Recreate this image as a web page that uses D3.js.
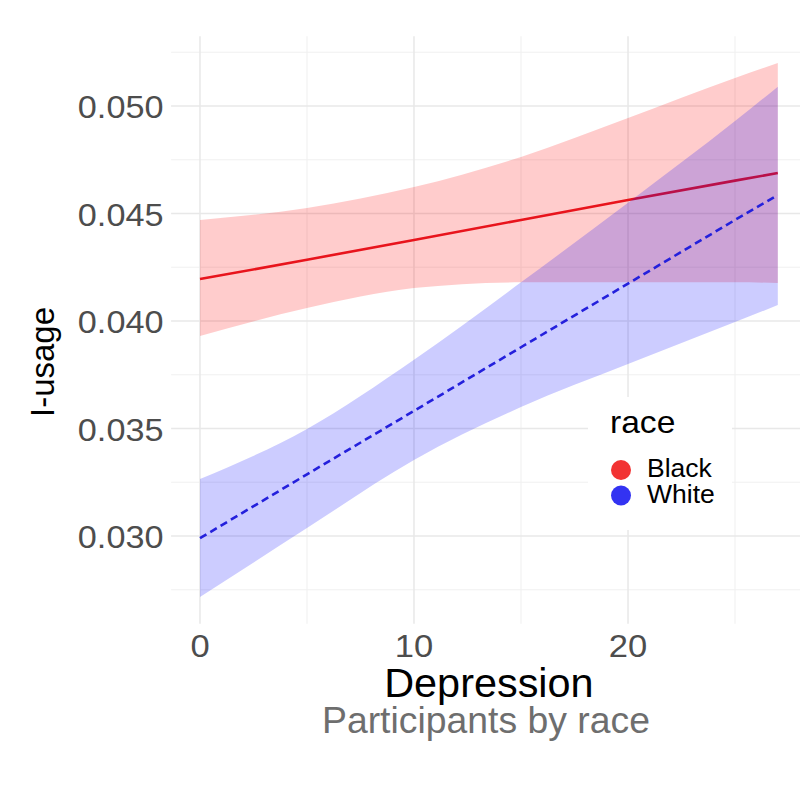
<!DOCTYPE html>
<html><head><meta charset="utf-8">
<script src="https://cdn.jsdelivr.net/npm/d3@7"></script>
<style>html,body{margin:0;padding:0;background:#fff;} svg{display:block;}</style>
</head><body>
<svg id="chart" width="800" height="800"></svg>
<script>
// ---- data ----
const depression = [0, 5, 10, 15, 20, 25, 27];
const blackFit   = [0.04195, 0.04285, 0.04377, 0.04470, 0.04563, 0.04653, 0.04688];
const blackLower = [0.03930, 0.04060, 0.04153, 0.04180, 0.04180, 0.04180, 0.04177];
const blackUpper = [0.04470, 0.04526, 0.04623, 0.04763, 0.04944, 0.05130, 0.05200];
const whiteFit   = [0.02990, 0.03287, 0.03582, 0.03878, 0.04174, 0.04470, 0.04586];
const whiteLower = [0.02716, 0.03037, 0.03354, 0.03600, 0.03800, 0.03995, 0.04074];
const whiteUpper = [0.03265, 0.03498, 0.03820, 0.04180, 0.04550, 0.04930, 0.05090];
const races = ["Black", "White"];
const xMajorTicks = [0, 10, 20];
const xMinorTicks = [5, 15, 25];
const yMajorTicks = [0.030, 0.035, 0.040, 0.045, 0.050];
const yMinorTicks = [0.0275, 0.0325, 0.0375, 0.0425, 0.0475, 0.0525];
const xTitle = "Depression";
const yTitle = "I-usage";
const caption = "Participants by race";
const legendTitle = "race";

// ---- scales (ggplot-style 5% expansion) ----
const xExt = d3.extent(depression);
const xPad = (xExt[1] - xExt[0]) * 0.05;
const allY = blackLower.concat(blackUpper, whiteLower, whiteUpper);
const yExt = d3.extent(allY);
const yPad = (yExt[1] - yExt[0]) * 0.05;

const x = d3.scaleLinear().domain([xExt[0] - xPad, xExt[1] + xPad]).range([171.1, 806.7]);
const y = d3.scaleLinear().domain([yExt[0] - yPad, yExt[1] + yPad]).range([623.8, 36.3]);

const svg = d3.select("#chart");
const FONT = "'Liberation Sans', Arial, Helvetica, sans-serif";
const [px0, px1] = x.range();
const [py0, py1] = y.range();

// ---- grid ----
const grid = svg.append("g");
grid.selectAll(".hmin").data(yMinorTicks).join("line")
  .attr("x1", px0).attr("x2", px1).attr("y1", d => y(d)).attr("y2", d => y(d))
  .attr("stroke", "#f0f0f0").attr("stroke-width", 1.1);
grid.selectAll(".vmin").data(xMinorTicks).join("line")
  .attr("y1", py0).attr("y2", py1).attr("x1", d => x(d)).attr("x2", d => x(d))
  .attr("stroke", "#f0f0f0").attr("stroke-width", 1.1);
grid.selectAll(".hmaj").data(yMajorTicks).join("line")
  .attr("x1", px0).attr("x2", px1).attr("y1", d => y(d)).attr("y2", d => y(d))
  .attr("stroke", "#e8e8e8").attr("stroke-width", 1.5);
grid.selectAll(".vmaj").data(xMajorTicks).join("line")
  .attr("y1", py0).attr("y2", py1).attr("x1", d => x(d)).attr("x2", d => x(d))
  .attr("stroke", "#e8e8e8").attr("stroke-width", 1.5);

// ---- series ----
const series = [
  {name: races[0], fit: blackFit, lo: blackLower, hi: blackUpper, fill: "#ff0000", line: "#e8141c", dash: null},
  {name: races[1], fit: whiteFit, lo: whiteLower, hi: whiteUpper, fill: "#0000ff", line: "#2420dc", dash: "7.5,4.5"}
];
const area = d3.area().curve(d3.curveMonotoneX)
  .x(d => x(d.x)).y0(d => y(d.lo)).y1(d => y(d.hi));
const line = d3.line().curve(d3.curveLinear).x(d => x(d.x)).y(d => y(d.v));

series.forEach(s => {
  const pts = depression.map((dx, i) => ({x: dx, lo: s.lo[i], hi: s.hi[i], v: s.fit[i]}));
  svg.append("path").datum(pts).attr("d", area)
    .attr("fill", s.fill).attr("fill-opacity", 0.2);
  svg.append("path").datum(pts).attr("d", line)
    .attr("fill", "none").attr("stroke", s.line).attr("stroke-width", 2.6)
    .attr("stroke-dasharray", s.dash);
});

// ---- text helper (reference text is slightly wide) ----
function txt(px, py, str, o) {
  const t = svg.append("text")
    .attr("transform", `translate(${px},${py}) rotate(${o.rot || 0}) scale(${o.sx || 1},1)`)
    .attr("font-family", FONT).attr("font-size", o.size)
    .attr("fill", o.fill || "#000").attr("text-anchor", o.anchor || "start")
    .text(str);
  return t;
}

// ---- axis tick labels ----
const fmtY = d3.format(".3f");
yMajorTicks.forEach(v => txt(163.5, y(v) + 12, fmtY(v), {size: 32, sx: 1.07, anchor: "end", fill: "#4d4d4d"}));
xMajorTicks.forEach(v => txt(x(v), py0 + 33.5, String(v), {size: 32, sx: 1.08, anchor: "middle", fill: "#4d4d4d"}));

// ---- titles ----
txt((px0 + px1) / 2, 697, xTitle, {size: 41, sx: 1.01, anchor: "middle", fill: "#000"});
txt(486, 733, caption, {size: 37, sx: 1.01, anchor: "middle", fill: "#6e6e6e"});
txt(54, 362, yTitle, {size: 33, rot: -90, anchor: "middle", fill: "#000"});

// ---- legend ----
const legendColors = ["#f23333", "#3333f2"];
const lg = svg.append("g");
lg.append("rect").attr("x", 588).attr("y", 397).attr("width", 144).attr("height", 133).attr("fill", "#fff");
txt(610, 433, legendTitle, {size: 32, sx: 1.05, fill: "#000"});
races.forEach((r, i) => {
  lg.append("circle").attr("cx", 621).attr("cy", 470 + i * 25.5).attr("r", 10).attr("fill", legendColors[i]);
  txt(647, 477 + i * 26, r, {size: 26, sx: 1.02, fill: "#000"});
});
</script>
</body></html>
